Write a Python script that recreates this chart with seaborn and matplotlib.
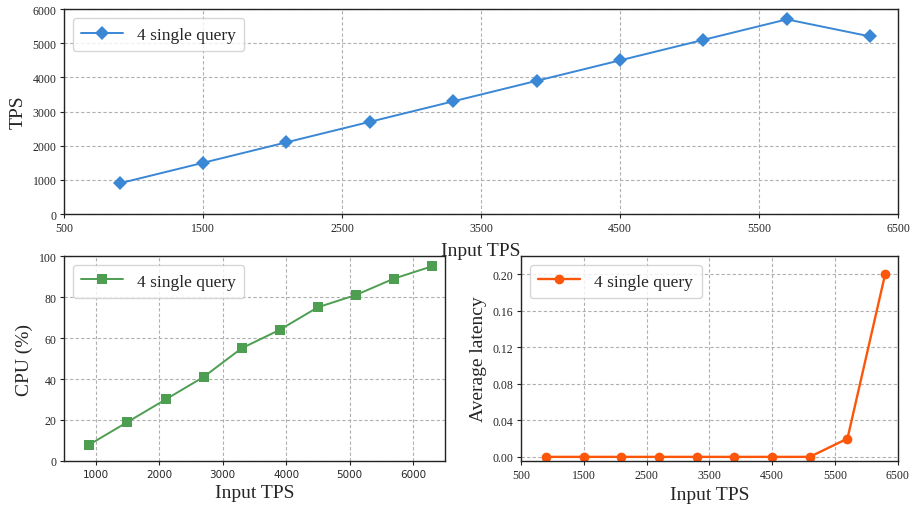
import matplotlib
matplotlib.use("Agg")
import matplotlib.pyplot as plt
import seaborn as sns
import pandas as pd

sns.set_style("white")
plt.rcParams['font.family'] = ['Liberation Serif', 'DejaVu Serif']

input_tps = [900, 1500, 2100, 2700, 3300, 3900, 4500, 5100, 5700, 6300]
tps = [900, 1500, 2100, 2700, 3300, 3900, 4500, 5100, 5700, 5200]
cpu = [8, 19, 30, 41, 55, 64, 75, 81, 89, 95]
latency = [0, 0, 0, 0, 0, 0, 0, 0, 0.02, 0.20]
series_name = "4 single query"

df = pd.DataFrame({"Input TPS": input_tps, "TPS": tps, "CPU": cpu, "Latency": latency,
                   "series": series_name})

fig = plt.figure(figsize=(9.13, 5.06), dpi=100)
ax1 = fig.add_axes([0.0701, 0.575, 0.9135, 0.405])
ax2 = fig.add_axes([0.0701, 0.087, 0.417, 0.405])
ax3 = fig.add_axes([0.5707, 0.087, 0.4125, 0.405])

blue = "#3a87d6"
green = "#4e9e52"
orange = "#fc560a"

sns.lineplot(data=df, x="Input TPS", y="TPS", ax=ax1, color=blue, marker="D",
             markersize=7, markeredgewidth=0, linewidth=1.4, label=series_name)
sns.lineplot(data=df, x="Input TPS", y="CPU", ax=ax2, color=green, marker="s",
             markersize=6.5, markeredgewidth=0, linewidth=1.4, label=series_name)
sns.lineplot(data=df, x="Input TPS", y="Latency", ax=ax3, color=orange, marker="o",
             markersize=7, markeredgewidth=0, linewidth=1.7, label=series_name)

def style(ax):
    ax.grid(True, linestyle=(0, (3, 2)), color="#b0b0b0", linewidth=0.8)
    for s in ax.spines.values():
        s.set_color("#222222")
        s.set_linewidth(1.0)
    ax.tick_params(axis="both", labelsize=8.5, length=3, width=0.8, color="#222222",
                   bottom=True, left=True, pad=2.5)
    leg = ax.legend(loc="upper left", fontsize=12.5, frameon=True, fancybox=True,
                    handlelength=2.4, borderpad=0.5)
    leg.get_frame().set_edgecolor("#cccccc")

ax1.set_xlim(500, 6500)
ax1.set_xticks([500, 1500, 2500, 3500, 4500, 5500, 6500])
ax1.set_ylim(0, 6000)
ax1.set_yticks([0, 1000, 2000, 3000, 4000, 5000, 6000])
ax1.set_xlabel("Input TPS", fontsize=14, labelpad=6)
ax1.set_ylabel("TPS", fontsize=14)
style(ax1)

ax2.set_xlim(500, 6500)
ax2.set_xticks([1000, 2000, 3000, 4000, 5000, 6000])
ax2.set_ylim(0, 100)
ax2.set_yticks([0, 20, 40, 60, 80, 100])
ax2.set_xlabel("Input TPS", fontsize=14)
ax2.set_ylabel("CPU (%)", fontsize=14)
style(ax2)
for lbl in ax2.get_xticklabels():
    lbl.set_family("DejaVu Sans")
    lbl.set_fontsize(7.5)

ax3.set_xlim(500, 6500)
ax3.set_xticks([500, 1500, 2500, 3500, 4500, 5500, 6500])
ax3.set_ylim(-0.0045, 0.22)
ax3.set_yticks([0.0, 0.04, 0.08, 0.12, 0.16, 0.20])
ax3.set_yticklabels(["0.00", "0.04", "0.08", "0.12", "0.16", "0.20"])
ax3.set_xlabel("Input TPS", fontsize=14)
ax3.set_ylabel("Average latency", fontsize=14)
style(ax3)

fig.savefig("out.png", dpi=100)
